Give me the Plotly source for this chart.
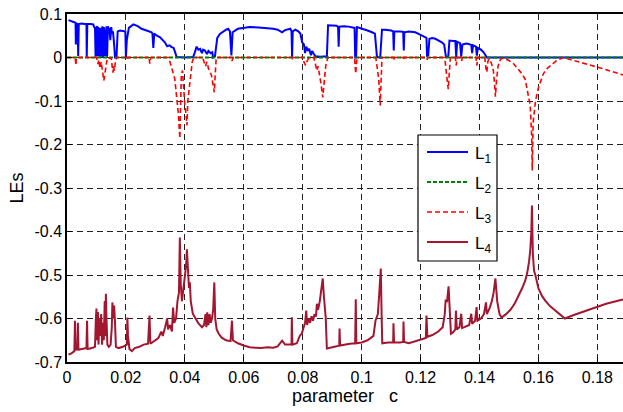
import plotly.graph_objects as go

# ---------------- data ----------------
L1_c = [0.0005,0.0015,0.0025,0.0029,0.0030,0.0032,0.0036,0.0038,0.0040,0.0050,0.0060,0.0066,0.0067,0.0069,
        0.0080,0.0089,0.0092,0.0095,0.0097,0.0099,0.0102,0.0104,0.0106,0.0109,0.0111,0.0113,0.0116,0.0118,
        0.0120,0.0123,0.0125,0.0128,0.0130,0.0132,0.0134,0.0136,0.0139,0.0142,0.0144,0.0147,0.0150,0.0153,
        0.0156,0.0160,0.0163,0.0168,0.0172,0.0180,0.0190,0.0198,0.0200,0.0203,0.0210,0.0225,0.0240,0.0253,
        0.0270,0.0287,0.0290,0.0293,0.0296,0.0305,0.0315,0.0325,0.0332,0.0340,0.0348,0.0355,0.0362,0.0368,
        0.0372,0.0400,0.0428,0.0433,0.0440,0.0446,0.0452,0.0458,0.0462,0.0468,0.0475,0.0480,0.0488,0.0493,
        0.0496,0.0502,0.0510,0.0519,0.0530,0.0540,0.0547,0.0553,0.0558,0.0562,0.0580,0.0600,0.0620,0.0650,
        0.0673,0.0700,0.0715,0.0730,0.0740,0.0758,0.0762,0.0764,0.0766,0.0775,0.0785,0.0792,0.0798,0.0804,
        0.0808,0.0812,0.0818,0.0822,0.0828,0.0832,0.0838,0.0843,0.0860,0.0882,0.0886,0.0900,0.0915,0.0920,
        0.0922,0.0924,0.0940,0.0956,0.0970,0.0976,0.0978,0.0981,0.0984,0.1000,0.1020,0.1035,0.1045,0.1052,
        0.1063,0.1069,0.1080,0.1100,0.1107,0.1109,0.1111,0.1130,0.1141,0.1143,0.1145,0.1160,0.1182,0.1200,
        0.1216,0.1220,0.1222,0.1226,0.1230,0.1240,0.1250,0.1261,0.1272,0.1280,0.1286,0.1294,0.1298,0.1310,
        0.1318,0.1321,0.1324,0.1334,0.1338,0.1342,0.1355,0.1363,0.1372,0.1375,0.1378,0.1388,0.1391,0.1394,
        0.1405,0.1414,0.1420,0.1425,0.1500,0.1887]
L1_v = [0.086,0.084,0.081,0.080,0.030,0.078,0.077,0.003,0.077,0.078,0.077,0.077,0.001,0.077,
        0.077,0.076,0.070,0.068,0.002,0.066,0.072,0.003,0.070,0.060,0.002,0.068,0.050,0.002,
        0.072,0.001,0.070,0.056,0.003,0.060,0.072,0.002,0.072,0.060,0.068,0.040,0.070,0.055,
        0.060,0.030,0.000,0.001,0.060,0.062,0.061,0.060,0.001,0.040,0.068,0.076,0.072,0.066,
        0.062,0.058,0.055,0.022,0.055,0.050,0.047,0.040,0.035,0.026,0.028,0.024,0.022,0.010,
        0.001,0.000,0.001,0.010,0.025,0.018,0.020,0.010,0.018,0.016,0.008,0.015,0.010,0.012,
        0.000,0.002,0.045,0.054,0.060,0.064,0.066,0.060,0.005,0.058,0.066,0.068,0.070,0.069,
        0.068,0.066,0.064,0.058,0.063,0.066,0.060,0.000,0.060,0.064,0.060,0.055,0.035,0.030,
        0.010,0.025,0.015,0.020,0.005,0.015,0.008,0.003,0.002,0.003,0.074,0.074,0.073,0.070,
        0.025,0.071,0.072,0.071,0.069,0.068,0.000,0.000,0.070,0.067,0.062,0.058,0.055,0.001,
        0.000,0.064,0.064,0.062,0.060,0.016,0.060,0.060,0.059,0.016,0.058,0.060,0.058,0.052,
        0.047,0.045,0.004,0.005,0.043,0.045,0.043,0.039,0.035,0.030,0.002,0.002,0.039,0.038,
        0.038,0.001,0.036,0.033,0.002,0.030,0.032,0.031,0.029,0.010,0.028,0.025,0.004,0.022,
        0.018,0.012,0.006,0.000,0.000,0.000]

L2_c = [0.0, 0.1887]
L2_v = [0.0, 0.0]

L3_c = [0.0005,0.0028,0.0030,0.0032,0.0100,0.0105,0.0108,0.0112,0.0116,0.0120,0.0125,0.0129,0.0133,0.0137,
        0.0150,0.0153,0.0156,0.0158,0.0161,0.0165,0.0170,0.0203,0.0205,0.0207,0.0278,0.0281,0.0284,0.0345,
        0.0350,0.0355,0.0360,0.0366,0.0372,0.0378,0.0383,0.0385,0.0388,0.0392,0.0396,0.0400,0.0404,0.0407,
        0.0410,0.0413,0.0417,0.0421,0.0425,0.0430,0.0460,0.0465,0.0470,0.0475,0.0480,0.0490,0.0495,0.0500,
        0.0503,0.0506,0.0510,0.0556,0.0560,0.0564,0.0763,0.0764,0.0766,0.0800,0.0805,0.0810,0.0815,0.0820,
        0.0838,0.0843,0.0848,0.0852,0.0856,0.0862,0.0868,0.0873,0.0878,0.0885,0.0976,0.0978,0.0980,0.0983,
        0.0985,0.1048,0.1052,0.1058,0.1063,0.1066,0.1069,0.1108,0.1109,0.1111,0.1142,0.1143,0.1145,0.1221,
        0.1222,0.1224,0.1282,0.1285,0.1290,0.1294,0.1297,0.1299,0.1301,0.1318,0.1321,0.1324,0.1337,0.1339,
        0.1342,0.1388,0.1391,0.1394,0.1418,0.1422,0.1425,0.1428,0.1432,0.1440,0.1447,0.1451,0.1454,0.1458,
        0.1463,0.1468,0.1475,0.1485,0.1500,0.1515,0.1530,0.1545,0.1555,0.1565,0.1572,0.1577,0.1579,0.1582,
        0.1590,0.1600,0.1610,0.1617,0.1630,0.1645,0.1660,0.1675,0.1685,0.1700,0.1760,0.1820,0.1887]
L3_v = [0.000,0.000,-0.018,0.000,0.000,-0.015,-0.005,-0.025,-0.010,-0.030,-0.053,-0.035,-0.010,0.000,
        -0.002,-0.025,-0.035,-0.020,-0.030,-0.005,0.000,0.000,-0.006,0.000,0.000,-0.014,0.000,0.000,
        -0.010,-0.020,-0.035,-0.050,-0.090,-0.130,-0.186,-0.120,-0.040,-0.030,-0.080,-0.110,-0.130,-0.156,
        -0.100,-0.080,-0.060,-0.030,-0.010,0.000,0.000,-0.010,-0.020,-0.010,-0.025,-0.040,-0.060,-0.080,
        -0.040,-0.005,0.000,0.000,-0.008,0.000,0.000,-0.004,0.000,0.000,-0.012,-0.018,-0.008,-0.002,
        0.000,-0.015,-0.030,-0.020,-0.035,-0.060,-0.092,-0.050,-0.020,0.000,0.000,-0.020,-0.037,-0.010,
        0.000,0.000,-0.020,-0.050,-0.110,-0.060,0.000,0.000,-0.006,0.000,0.000,-0.006,0.000,0.000,
        -0.005,0.000,0.000,-0.020,-0.045,-0.073,-0.040,-0.005,0.000,0.000,-0.018,0.000,0.000,-0.008,
        0.000,0.000,-0.018,0.000,0.000,-0.025,-0.034,-0.010,-0.003,-0.012,-0.030,-0.060,-0.090,-0.050,
        -0.020,-0.008,-0.002,-0.002,-0.007,-0.014,-0.025,-0.038,-0.050,-0.083,-0.110,-0.180,-0.260,-0.150,
        -0.100,-0.069,-0.050,-0.037,-0.025,-0.016,-0.008,-0.003,0.000,-0.003,-0.014,-0.026,-0.040]

L4_c = [0.0005,0.0015,0.0025,0.0027,0.0029,0.0035,0.0037,0.0039,0.0050,0.0066,0.0068,0.0070,0.0085,0.0095,
        0.0098,0.0100,0.0102,0.0105,0.0107,0.0110,0.0113,0.0116,0.0119,0.0122,0.0125,0.0128,0.0130,0.0132,
        0.0134,0.0137,0.0142,0.0148,0.0152,0.0154,0.0157,0.0160,0.0163,0.0166,0.0175,0.0190,0.0203,0.0205,
        0.0207,0.0212,0.0220,0.0230,0.0245,0.0260,0.0275,0.0280,0.0283,0.0295,0.0310,0.0320,0.0325,0.0333,
        0.0340,0.0343,0.0350,0.0356,0.0360,0.0364,0.0370,0.0375,0.0380,0.0383,0.0386,0.0390,0.0395,0.0400,
        0.0404,0.0407,0.0410,0.0414,0.0417,0.0420,0.0427,0.0435,0.0445,0.0458,0.0465,0.0470,0.0473,0.0476,
        0.0480,0.0484,0.0488,0.0492,0.0496,0.0500,0.0503,0.0508,0.0515,0.0525,0.0540,0.0555,0.0560,0.0563,
        0.0580,0.0600,0.0620,0.0640,0.0660,0.0680,0.0700,0.0715,0.0730,0.0740,0.0755,0.0762,0.0763,0.0765,
        0.0780,0.0790,0.0797,0.0803,0.0808,0.0812,0.0815,0.0820,0.0825,0.0830,0.0835,0.0840,0.0845,0.0848,
        0.0852,0.0858,0.0864,0.0868,0.0872,0.0878,0.0882,0.0900,0.0915,0.0924,0.0925,0.0927,0.0940,0.0960,
        0.0978,0.0980,0.0982,0.1000,0.1020,0.1040,0.1047,0.1055,0.1060,0.1065,0.1068,0.1070,0.1090,0.1107,
        0.1108,0.1110,0.1130,0.1141,0.1142,0.1144,0.1160,0.1182,0.1200,0.1218,0.1220,0.1223,0.1240,0.1260,
        0.1275,0.1282,0.1285,0.1290,0.1295,0.1298,0.1303,0.1310,0.1318,0.1320,0.1323,0.1332,0.1338,0.1341,
        0.1350,0.1365,0.1372,0.1375,0.1385,0.1390,0.1393,0.1405,0.1415,0.1422,0.1425,0.1435,0.1442,0.1448,
        0.1454,0.1460,0.1468,0.1475,0.1490,0.1505,0.1520,0.1535,0.1545,0.1555,0.1562,0.1568,0.1572,0.1576,
        0.1578,0.1581,0.1585,0.1590,0.1600,0.1612,0.1623,0.1640,0.1657,0.1675,0.1690,0.1720,0.1760,0.1793,
        0.1830,0.1887]
L4_v = [-0.683,-0.680,-0.675,-0.605,-0.672,-0.670,-0.610,-0.672,-0.670,-0.668,-0.605,-0.670,-0.668,-0.665,
        -0.600,-0.577,-0.650,-0.585,-0.660,-0.600,-0.640,-0.590,-0.660,-0.610,-0.650,-0.560,-0.640,-0.543,
        -0.600,-0.660,-0.665,-0.660,-0.620,-0.563,-0.600,-0.570,-0.610,-0.665,-0.668,-0.665,-0.660,-0.598,
        -0.640,-0.670,-0.675,-0.668,-0.665,-0.660,-0.658,-0.593,-0.658,-0.652,-0.645,-0.630,-0.640,-0.620,
        -0.600,-0.625,-0.615,-0.630,-0.575,-0.610,-0.600,-0.560,-0.540,-0.414,-0.520,-0.560,-0.530,-0.500,
        -0.480,-0.441,-0.500,-0.530,-0.517,-0.560,-0.589,-0.600,-0.610,-0.620,-0.615,-0.590,-0.620,-0.586,
        -0.615,-0.590,-0.610,-0.600,-0.580,-0.517,-0.600,-0.625,-0.635,-0.644,-0.650,-0.652,-0.605,-0.650,
        -0.657,-0.662,-0.666,-0.667,-0.668,-0.666,-0.667,-0.664,-0.651,-0.660,-0.660,-0.660,-0.597,-0.660,
        -0.657,-0.640,-0.634,-0.620,-0.610,-0.582,-0.615,-0.600,-0.610,-0.595,-0.605,-0.590,-0.595,-0.566,
        -0.580,-0.560,-0.535,-0.508,-0.550,-0.597,-0.669,-0.667,-0.664,-0.662,-0.623,-0.662,-0.660,-0.658,
        -0.657,-0.556,-0.657,-0.655,-0.650,-0.640,-0.605,-0.590,-0.540,-0.485,-0.600,-0.657,-0.655,-0.655,
        -0.611,-0.655,-0.655,-0.654,-0.607,-0.654,-0.657,-0.652,-0.648,-0.645,-0.593,-0.642,-0.638,-0.630,
        -0.620,-0.590,-0.559,-0.560,-0.526,-0.580,-0.635,-0.632,-0.625,-0.582,-0.625,-0.620,-0.589,-0.622,
        -0.620,-0.615,-0.589,-0.612,-0.605,-0.574,-0.605,-0.600,-0.590,-0.563,-0.590,-0.575,-0.560,-0.540,
        -0.508,-0.560,-0.590,-0.598,-0.590,-0.580,-0.565,-0.545,-0.530,-0.513,-0.495,-0.470,-0.445,-0.400,
        -0.340,-0.450,-0.490,-0.501,-0.531,-0.548,-0.559,-0.572,-0.582,-0.592,-0.600,-0.592,-0.583,-0.574,
        -0.566,-0.556]

series_names = ["L<sub>1</sub>", "L<sub>2</sub>", "L<sub>3</sub>", "L<sub>4</sub>"]
x_ticks = [0, 0.02, 0.04, 0.06, 0.08, 0.1, 0.12, 0.14, 0.16, 0.18]
x_ticktext = ["0", "0.02", "0.04", "0.06", "0.08", "0.1", "0.12", "0.14", "0.16", "0.18"]
y_ticks = [0.1, 0, -0.1, -0.2, -0.3, -0.4, -0.5, -0.6, -0.7]
y_ticktext = ["0.1", "0", "-0.1", "-0.2", "-0.3", "-0.4", "-0.5", "-0.6", "-0.7"]

# ---------------- styles ----------------
styles = [
    dict(color="#0000FF", width=2),
    dict(color="#008000", width=2, dash="4px,2px"),
    dict(color="#FF0000", width=1.6, dash="5px,3px"),
    dict(color="#A3162F", width=2),
]

W, H = 623, 412
ML, MR, MT, MB = 67, 0, 14, 50
PW, PH = W - ML - MR, H - MT - MB


def px(xp):
    return (xp - ML) / PW


def py(yp):
    return (H - MB - yp) / PH


fig = go.Figure()
for (cx, vy), name, st in zip([(L1_c, L1_v), (L2_c, L2_v), (L3_c, L3_v), (L4_c, L4_v)], series_names, styles):
    fig.add_trace(go.Scatter(x=cx, y=vy, mode="lines", name=name, line=st, showlegend=False))

# legend box (drawn as shapes + text so its size matches the reference)
shapes = [dict(type="rect", xref="paper", yref="paper",
               x0=px(418), x1=px(497), y0=py(261), y1=py(135),
               fillcolor="white", line=dict(color="black", width=1.2), layer="above")]
annotations = []
for i, (name, st) in enumerate(zip(series_names, styles)):
    yy = 152 + 30 * i
    shapes.append(dict(type="line", xref="paper", yref="paper",
                       x0=px(427), x1=px(468), y0=py(yy), y1=py(yy),
                       line=dict(color=st["color"], width=st["width"], dash=st.get("dash", "solid")),
                       layer="above"))
    annotations.append(dict(xref="paper", yref="paper", x=px(473), y=py(yy + 3),
                            xanchor="left", yanchor="middle", text=name, showarrow=False,
                            font=dict(size=17, color="black")))

font_family = "Liberation Sans, Arial, sans-serif"
fig.update_layout(
    width=W, height=H,
    margin=dict(l=ML, r=MR, t=MT, b=MB),
    paper_bgcolor="white", plot_bgcolor="white",
    font=dict(family=font_family, size=16, color="black"),
    showlegend=False,
    shapes=shapes, annotations=annotations,
    xaxis=dict(range=[0, 0.1887], tickvals=x_ticks, ticktext=x_ticktext,
               showgrid=True, gridcolor="#222", griddash="6px,4px", gridwidth=1,
               showline=True, linecolor="black", linewidth=1.5, mirror=True,
               ticks="inside", ticklen=5, tickcolor="black", zeroline=False,
               tickfont=dict(size=16),
               title=dict(text="parameter   c", font=dict(size=18), standoff=4)),
    yaxis=dict(range=[-0.7, 0.1], tickvals=y_ticks, ticktext=y_ticktext,
               showgrid=True, gridcolor="#222", griddash="6px,4px", gridwidth=1,
               showline=True, linecolor="black", linewidth=1.5, mirror=False,
               ticks="inside", ticklen=5, tickcolor="black", zeroline=False,
               tickfont=dict(size=16),
               title=dict(text="LEs", font=dict(size=18), standoff=6)),
)

fig.write_html("out.html")
